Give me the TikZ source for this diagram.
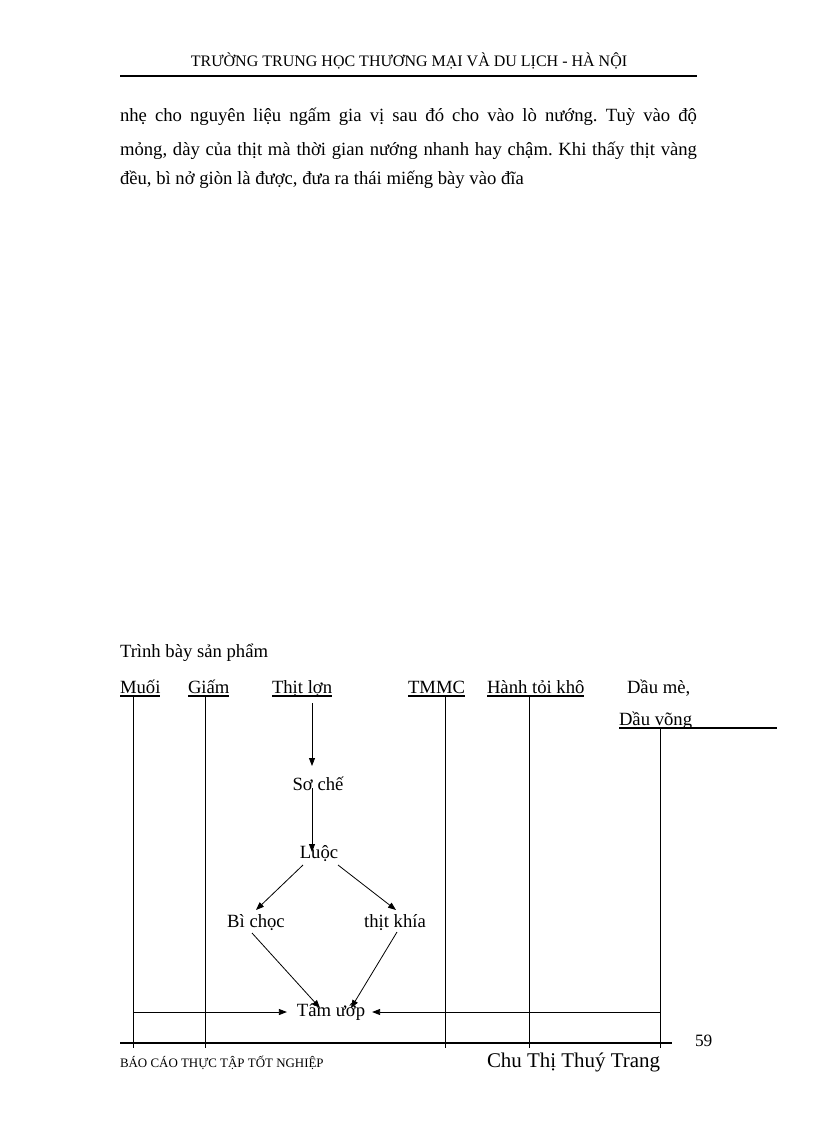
\documentclass[tikz,border=0pt]{standalone}
\usepackage{fontspec}
\setmainfont{Liberation Serif}
\usetikzlibrary{arrows.meta,calc}
\frenchspacing
\begin{document}
\begin{tikzpicture}[x=0.75pt,y=-0.75pt,
  txt/.style={inner sep=0pt,outer sep=0pt,font=\fontsize{14}{16}\selectfont},
  lbl/.style={txt,anchor=base west},
  ctr/.style={txt,anchor=base},
  arr/.style={line width=0.6pt,-{Triangle[length=6pt,width=4.5pt]}},
  ln/.style={line width=0.6pt},
  ul/.style={line width=0.8pt}]
\useasboundingbox[fill=white] (0,0) rectangle (816,1123);
% header
\node[ctr,font=\fontsize{12}{14}\selectfont] (hdr) at (409,67) {TRƯỜNG TRUNG HỌC THƯƠNG MẠI VÀ DU LỊCH - HÀ NỘI};
\draw[line width=1.8pt] (120,76) -- (697,76);
% body text
\node[lbl] (l1) at (120,122) {\makebox[432.75pt][s]{nhẹ cho nguyên liệu  ngấm gia vị sau đó cho vào lò nướng. Tuỳ vào độ}};
\node[lbl] (l2) at (120,156) {\makebox[432.75pt][s]{mỏng, dày của thịt mà thời gian nướng nhanh hay chậm. Khi thấy thịt vàng}};
\node[lbl] (l3) at (120,185) {đều, bì nở giòn là được, đưa ra thái miếng bày vào đĩa};
% diagram title
\node[lbl] (title) at (120,657) {Trình bày sản phẩm};
% top labels
\node[lbl] (muoi) at (120,693) {Muối};
\node[lbl] (giam) at (188,693) {Giấm};
\node[lbl] (thitlon) at (272,693) {Thịt lợn};
\node[lbl] (tmmc) at (408,693) {TMMC};
\node[lbl] (hanh) at (487,693) {Hành tỏi khô\ };
\node[lbl] (daume) at (627,693) {Dầu mè,};
\node[lbl] (dauvong) at (619,725) {Dầu võng};
\coordinate (ulend) at (777,728);
\foreach \n in {muoi,giam,thitlon,tmmc,hanh}{
  \draw[ul] ($(\n.base west)+(0,3)$) -- ($(\n.base east)+(0,3)$);
}
\draw[ul] ($(dauvong.base west)+(0,3)$) -- (ulend);
% process nodes
\node[ctr] (soche) at (318,790) {Sơ chế};
\node[ctr] (luoc) at (319,858) {Luộc};
\node[ctr] (bichoc) at (256,927) {Bì chọc};
\node[ctr] (thitkhia) at (395,927) {thịt khía};
\node[ctr] (tamuop) at (331,1016) {Tẩm ướp};
% vertical lines
\coordinate (footy) at (0,1048);
\coordinate (v1) at ($(muoi.base west)+(13,3)$);
\coordinate (v2) at ($(giam.base west)+(17,3)$);
\coordinate (v3) at ($(tmmc.base west)+(37,3)$);
\coordinate (v4) at ($(hanh.base west)+(42,3)$);
\coordinate (v5) at ($(dauvong.base west)+(41,3)$);
\foreach \v in {v1,v2,v3,v4,v5}{\draw[ln] (\v) -- (\v |- footy);}
% arrows
\draw[arr] ($(thitlon.base west)+(40,10)$) -- ($(soche.base)+(-6,-24)$);
\draw[arr] ($(soche.base)+(-6,-2)$) -- ($(luoc.base)+(-7,-6)$);
\draw[arr] ($(luoc.base)+(-16,7)$) -- ($(bichoc.base)+(0,-17)$);
\draw[arr] ($(luoc.base)+(19,7)$) -- ($(thitkhia.base)+(1,-17)$);
\draw[arr] ($(bichoc.base)+(-4,6)$) -- ($(tamuop.base)+(-11,-8)$);
\draw[arr] ($(thitkhia.base)+(2,5)$) -- ($(tamuop.base)+(20,-8)$);
\coordinate (hy) at ($(tamuop.base)+(0,-4)$);
\draw[arr] (v1 |- hy) -- ($(tamuop.base west)+(-10,-4)$);
\draw[arr] (v5 |- hy) -- ($(tamuop.base east)+(7,-4)$);
% footer
\draw[line width=2.2pt] (120,1043) -- (672,1043);
\node[lbl,font=\fontsize{13}{15}\selectfont] (pg) at (695,1046) {59};
\node[lbl,font=\fontsize{9.7}{12}\selectfont] (bc) at (120,1067) {BÁO CÁO THỰC TẬP TỐT NGHIỆP};
\node[lbl,font=\fontsize{15.7}{18}\selectfont] (chu) at (487,1067) {Chu Thị Thuý Trang};
\end{tikzpicture}
\end{document}
